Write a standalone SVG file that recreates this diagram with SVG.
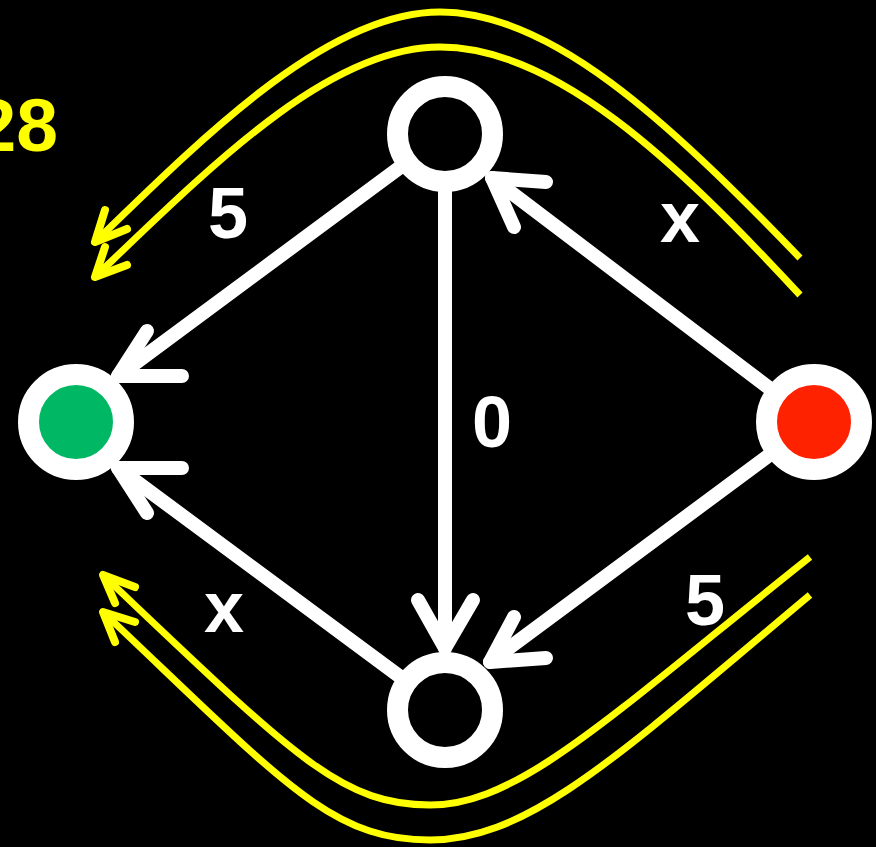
<svg xmlns="http://www.w3.org/2000/svg" width="876" height="847" viewBox="0 0 876 847">
<style>
.edge{fill:none;stroke:#fff;stroke-width:14;stroke-linecap:round;stroke-linejoin:round}
.arc{fill:none;stroke:#ffff00;stroke-width:7}
.ahead{fill:none;stroke:#ffff00;stroke-width:8;stroke-linecap:round;stroke-linejoin:round}
.node{stroke:#fff;stroke-width:21}
.lbl{font-family:"Liberation Sans",Arial,sans-serif;font-size:72px;font-weight:bold;fill:#fff;text-anchor:middle}
.big{font-family:"Liberation Sans",Arial,sans-serif;font-size:75px;font-weight:bold;fill:#ffff00;text-anchor:end}
</style>
<rect width="876" height="847" fill="#000"/>
<text class="big" x="58" y="151">28</text>
<g id="paths">
<path class="arc" d="M800,258 C665,118 550,12 440,12 C330,12 210,130 95,242"/>
<path class="ahead" d="M105,210 L95,242 L127,229"/>
<path class="arc" d="M800,295 C675,160 555,47 440,47 C330,47 215,162 95,277"/>
<path class="ahead" d="M105,247 L95,277 L127,265"/>
<path class="arc" d="M810,557 C610,716 520,805 430,805 C340,805 293,755 103,575"/>
<path class="ahead" d="M135,587 L103,575 L115,603"/>
<path class="arc" d="M810,595 C620,754 530,840 430,840 C330,840 283,782 103,612"/>
<path class="ahead" d="M135,622 L103,612 L115,642"/>
</g>
<g id="connectors">
<path class="edge" d="M445,134 L118,376"/>
<path class="edge" d="M147,331 L118,376 L182,376"/>
<path class="edge" d="M445,134 L445,648"/>
<path class="edge" d="M418,600 L445,648 L473,600"/>
<path class="edge" d="M814,422 L492,178"/>
<path class="edge" d="M514,227 L492,178 L546,182"/>
<path class="edge" d="M814,422 L490,662"/>
<path class="edge" d="M514,617 L490,662 L546,658"/>
<path class="edge" d="M445,710 L118,468"/>
<path class="edge" d="M182,468 L118,468 L147,513"/>
</g>
<g id="labels">
<text class="lbl" x="228" y="238">5</text>
<text class="lbl" x="680" y="242">x</text>
<text class="lbl" x="492" y="447">0</text>
<text class="lbl" x="224" y="632">x</text>
<text class="lbl" x="705" y="625">5</text>
</g>
<g id="node-top"><circle class="node" cx="445" cy="134" r="47.5" fill="#000"/></g>
<g id="node-bottom"><circle class="node" cx="445" cy="710" r="47.5" fill="#000"/></g>
<g id="node-left"><circle class="node" cx="76" cy="422" r="47.5" fill="#00b864"/></g>
<g id="node-right"><circle class="node" cx="814" cy="422" r="47.5" fill="#ff2200"/></g>
</svg>
